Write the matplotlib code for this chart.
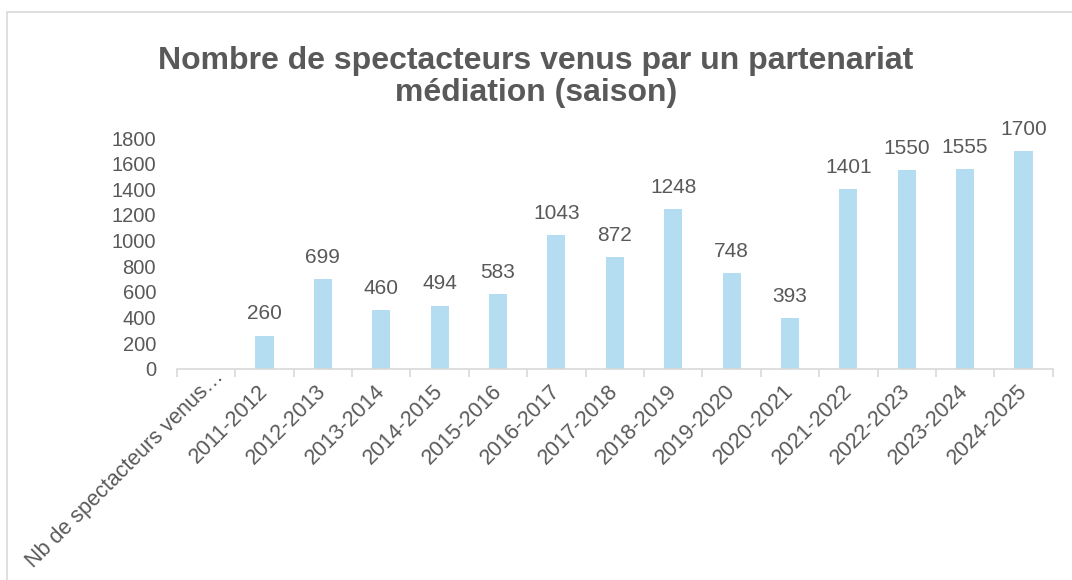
import matplotlib.pyplot as plt
import numpy as np
from matplotlib.patches import Rectangle
from matplotlib.transforms import ScaledTranslation

plt.rcParams['font.family'] = ['Liberation Sans', 'DejaVu Sans']

saisons = ['Nb de spectacteurs venus…', '2011-2012', '2012-2013', '2013-2014', '2014-2015',
           '2015-2016', '2016-2017', '2017-2018', '2018-2019', '2019-2020', '2020-2021',
           '2021-2022', '2022-2023', '2023-2024', '2024-2025']
spectateurs = [np.nan, 260, 699, 460, 494, 583, 1043, 872, 1248, 748, 393, 1401, 1550, 1555, 1700]
yticks = [0, 200, 400, 600, 800, 1000, 1200, 1400, 1600, 1800]

gris = '#595959'
bleu = '#B4DDF2'

fig = plt.figure(figsize=(10.72, 5.8), dpi=100)
ax = fig.add_axes([0.165, 0.364, 0.817, 0.398])

x = np.arange(len(saisons))
ax.bar(x, spectateurs, width=0.31, color=bleu)
for xi, v in zip(x, spectateurs):
    if np.isfinite(v):
        ax.text(xi, v + 95, str(v), ha='center', va='bottom', fontsize=15, color=gris)

ax.set_xlim(-0.5, len(saisons) - 0.5)
ax.set_ylim(0, 1800)
ax.set_yticks(yticks)
ax.set_yticklabels([str(t) for t in yticks], fontsize=14.5, color=gris)
ax.tick_params(axis='y', length=0, pad=15)

# le premier libellé (tronqué) est placé à part, comme dans Excel
ax.set_xticks(x)
ax.set_xticklabels([''] + saisons[1:], rotation=45, ha='right', va='top', rotation_mode='anchor',
                   fontsize=15.5, color=gris)
ax.tick_params(axis='x', length=0, pad=12)
decal = ScaledTranslation(-0.07, 0.05, fig.dpi_scale_trans)
for lab in ax.get_xticklabels():
    lab.set_transform(lab.get_transform() + decal)
ax.annotate(saisons[0], xy=(x[0], 0), xycoords=ax.get_xaxis_transform(),
            xytext=(13.3, -6.5), textcoords='offset points', rotation=45,
            rotation_mode='anchor', ha='right', va='baseline', fontsize=15.5, color=gris)

ax.set_xticks(np.arange(len(saisons) + 1) - 0.5, minor=True)
ax.tick_params(axis='x', which='minor', length=6, color='#D9D9D9', width=1.2)

for s in ['top', 'right', 'left']:
    ax.spines[s].set_visible(False)
ax.spines['bottom'].set_color('#D9D9D9')
ax.spines['bottom'].set_linewidth(1.2)

fig.text(0.5, 0.921, 'Nombre de spectacteurs venus par un partenariat\nmédiation (saison)',
         ha='center', va='top', fontsize=23, fontweight='bold', color=gris, linespacing=1.08)

fig.patches.append(Rectangle((7 / 1072, -0.05), 1.1, 1.05 - 12 / 580, transform=fig.transFigure,
                             fill=False, edgecolor='#D9D9D9', linewidth=1.2))

fig.savefig('out.png', dpi=100)
